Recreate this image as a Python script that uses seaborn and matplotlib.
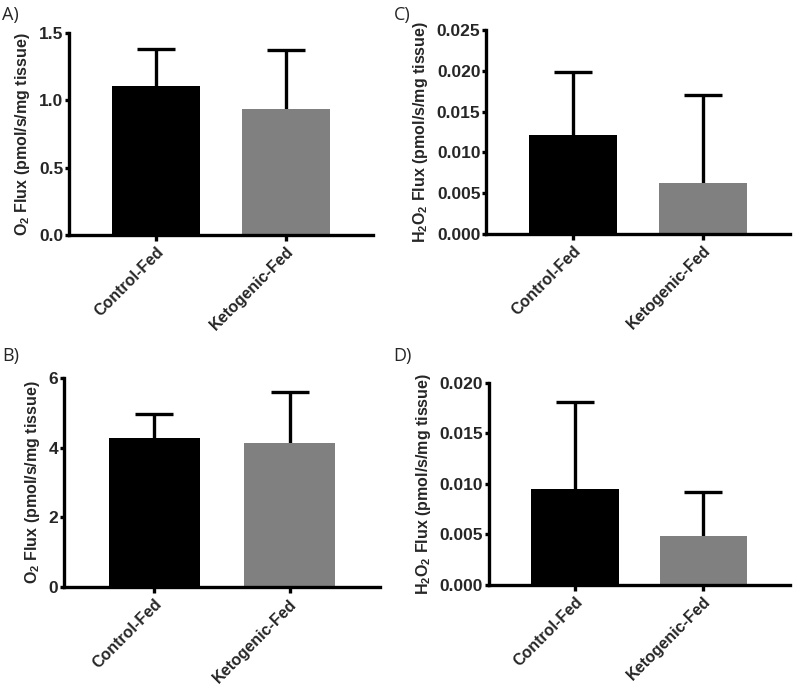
import numpy as np
import pandas as pd
import matplotlib
matplotlib.use("Agg")
import matplotlib.pyplot as plt
import seaborn as sns

groups = ["Control-Fed", "Ketogenic-Fed"]
colors = ["#000000", "#808080"]

# Panel means and upper error (mean + SEM tops)
a_mean = [1.106, 0.936]
a_top = [1.381, 1.374]
b_mean = [4.28, 4.12]
b_top = [4.97, 5.58]
c_mean = [0.01213, 0.00625]
c_top = [0.01989, 0.01707]
d_mean = [0.00946, 0.00487]
d_top = [0.01812, 0.00922]

sns.set_style("ticks")
plt.rcParams["font.family"] = ["Liberation Sans", "DejaVu Sans"]
plt.rcParams["mathtext.fontset"] = "custom"
plt.rcParams["mathtext.rm"] = "Liberation Sans:bold"
plt.rcParams["mathtext.bf"] = "Liberation Sans:bold"
plt.rcParams["mathtext.default"] = "bf"

fig = plt.figure(figsize=(8, 6.86), dpi=100)

panels = [
    ("A)", (0.003, 1 - 15 / 686), a_mean, a_top, [0.08625, 0.6574, 0.380, 0.2945], (0, 1.5), [0.0, 0.5, 1.0, 1.5], "{:.1f}", r"O$_2$ Flux (pmol/s/mg tissue)"),
    ("C)", (0.492, 1 - 15 / 686), c_mean, c_top, [0.6075, 0.6589, 0.380, 0.2974], (0, 0.025), [0, 0.005, 0.010, 0.015, 0.020, 0.025], "{:.3f}", r"H$_2$O$_2$ Flux (pmol/s/mg tissue)"),
    ("B)", (0.003, 1 - 356 / 686), b_mean, b_top, [0.080, 0.1439, 0.395, 0.3055], (0, 6), [0, 2, 4, 6], "{:.0f}", r"O$_2$ Flux (pmol/s/mg tissue)"),
    ("D)", (0.492, 1 - 356 / 686), d_mean, d_top, [0.611, 0.1472, 0.376, 0.2949], (0, 0.020), [0, 0.005, 0.010, 0.015, 0.020], "{:.3f}", r"H$_2$O$_2$ Flux (pmol/s/mg tissue)"),
]

for label, lpos, means, tops, rect, ylim, yticks, fmt, ylab in panels:
    ax = fig.add_axes(rect)
    df = pd.DataFrame({"group": groups, "value": means})
    err = np.array(tops) - np.array(means)
    _, caps, _ = ax.errorbar([0, 1], means, yerr=[np.zeros(2), err], fmt="none",
                             ecolor="black", elinewidth=2.4, capsize=13.5,
                             capthick=2.4, zorder=1)
    caps[0].set_visible(False)
    sns.barplot(data=df, x="group", y="value", hue="group", palette=colors,
                width=0.68, legend=False, ax=ax, errorbar=None,
                edgecolor="none", linewidth=0)
    for p in ax.patches:
        p.set_zorder(2)
    ax.set_xlim(-0.67, 1.67)
    ax.set_ylim(*ylim)
    ax.set_yticks(yticks)
    ax.set_yticklabels([fmt.format(t) for t in yticks], fontweight="bold", fontsize=12.5)
    ax.set_xticks([0, 1])
    ax.set_xticklabels(groups, rotation=45, ha="right", rotation_mode="anchor",
                       fontweight="bold", fontsize=11.5)
    ax.set_xlabel("")
    ax.set_ylabel(ylab, fontweight="bold", fontsize=11.5, labelpad=5)
    for s in ["top", "right"]:
        ax.spines[s].set_visible(False)
    for s in ["left", "bottom"]:
        ax.spines[s].set_linewidth(2.4)
        ax.spines[s].set_color("black")
    ax.tick_params(axis="y", width=2.4, length=3.2, color="black", pad=0.8)
    ax.tick_params(axis="x", width=2.4, length=4, color="black", pad=2.5)
    fig.text(lpos[0], lpos[1], label, fontsize=13,
             family=["Open Sans", "DejaVu Sans"], va="center", ha="left")

fig.savefig("out.png", dpi=100, facecolor="white")
